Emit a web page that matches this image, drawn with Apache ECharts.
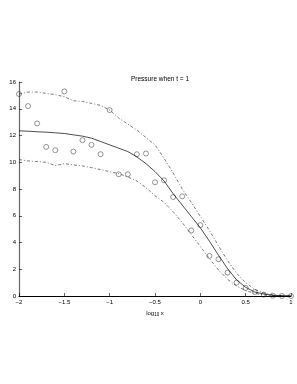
<!DOCTYPE html>
<html><head><meta charset="utf-8">
<script src="https://cdn.jsdelivr.net/npm/echarts@6/dist/echarts.min.js"></script>
<style>html,body{margin:0;padding:0;background:#fff}#c{width:297px;height:384px}</style>
</head><body><div id="c"></div>
<script>
var xValues = [-2,-1.9,-1.8,-1.7,-1.6,-1.5,-1.4,-1.3,-1.2,-1.1,-1.0,-0.9,-0.8,-0.7,-0.6,-0.5,-0.4,-0.3,-0.2,-0.1,0,0.1,0.2,0.3,0.4,0.5,0.6,0.7,0.8,0.9,1.0];
var observed = [15.1,14.2,12.9,11.15,10.9,15.3,10.8,11.65,11.3,10.6,13.9,9.1,9.1,10.6,10.65,8.5,8.65,7.4,7.45,4.9,5.3,3.0,2.75,1.75,1.0,0.6,0.3,0.1,0.02,0.0,0.0];
var meanCurve = [12.35,12.32,12.28,12.25,12.2,12.15,12.05,11.95,11.8,11.55,11.3,11.05,10.8,10.4,9.9,9.3,8.6,7.65,6.8,5.95,5.1,4.1,3.05,2.05,1.2,0.65,0.3,0.15,0.05,0.02,0.0];
var upperCurve = [15.1,15.25,15.25,15.15,15.05,14.9,14.6,14.55,14.4,14.25,13.9,13.3,12.85,12.4,11.85,11.3,10.3,9.2,8.0,7.0,5.95,4.9,3.75,2.65,1.7,1.0,0.5,0.22,0.08,0.03,0.01];
var lowerCurve = [10.2,10.1,10.05,10.0,9.75,9.9,9.8,9.72,9.6,9.45,9.3,9.15,8.9,8.6,8.1,7.5,7.0,6.3,5.5,4.6,3.7,2.8,1.95,1.25,0.75,0.4,0.2,0.08,0.03,0.01,0.0];
var titleText = 'Pressure when t = 1';
var yLabel = 'Pressure';

function pairs(ys){ return xValues.map(function(x,i){ return [x, ys[i]]; }); }
var font = 'Liberation Sans, Arial, sans-serif';
var chart = echarts.init(document.getElementById('c'), null, {renderer:'canvas'});
chart.setOption({
  animation:false,
  backgroundColor:'#fff',
  title:{text:titleText,left:155,top:71,textAlign:'center',textStyle:{fontSize:6.5,fontWeight:'normal',color:'#000',fontFamily:font}},
  grid:{left:19,right:6,top:82,bottom:88,containLabel:false,outerBoundsMode:'none'},
  xAxis:{type:'value',min:-2,max:1,interval:0.5,
    name:'{a|log}{s|10}{a| x}',nameLocation:'middle',nameGap:4,
    nameTextStyle:{rich:{a:{fontSize:6,color:'#000',fontFamily:font},s:{fontSize:4.5,color:'#000',fontFamily:font,padding:[4,0,0,0]}}},
    axisLine:{onZero:false,lineStyle:{color:'#000',width:1}},
    axisTick:{inside:true,length:3,lineStyle:{color:'#000',width:0.6}},
    axisLabel:{fontSize:6,color:'#000',margin:3,fontFamily:font,formatter:function(v){return v<0?('\u2212'+Math.abs(v)):String(v);}},
    splitLine:{show:false}},
  yAxis:{type:'value',min:0,max:16,interval:2,
    name:yLabel,nameLocation:'middle',nameGap:13,nameRotate:90,
    nameTextStyle:{fontSize:6,color:'#000',fontFamily:font},
    axisLine:{show:true,onZero:false,lineStyle:{color:'#666',width:1.2}},
    axisTick:{show:true,inside:true,length:3,lineStyle:{color:'#000',width:0.6}},
    axisLabel:{fontSize:6,color:'#000',margin:3,fontFamily:font},
    splitLine:{show:false}},
  series:[
    {type:'line',data:pairs(upperCurve),symbol:'none',lineStyle:{color:'#222',width:0.6,type:[3,2,1,2]}},
    {type:'line',data:pairs(lowerCurve),symbol:'none',lineStyle:{color:'#222',width:0.6,type:[3,2,1,2]}},
    {type:'line',data:pairs(meanCurve),symbol:'none',lineStyle:{color:'#000',width:0.7}},
    {type:'scatter',data:pairs(observed),symbol:'circle',symbolSize:5,itemStyle:{color:'rgba(0,0,0,0)',borderColor:'#222',borderWidth:0.6}}
  ]
});
</script></body></html>
